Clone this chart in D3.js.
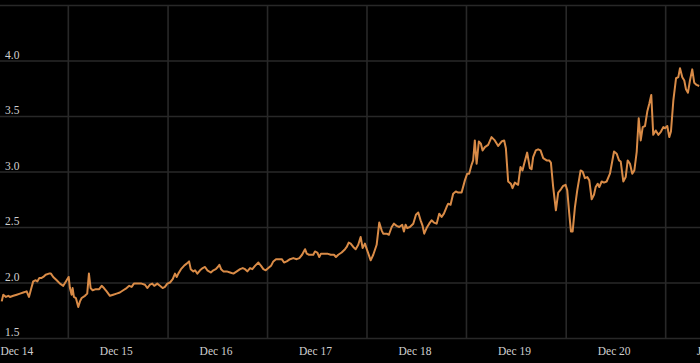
<!DOCTYPE html>
<html>
<head>
<meta charset="utf-8">
<script src="https://cdn.jsdelivr.net/npm/d3@7"></script>
<style>
  html, body { margin: 0; padding: 0; background: #000; }
  svg { display: block; }
</style>
</head>
<body>
<svg id="chart"></svg>
<script>
// series: time as decimal year
const times = [
  2014.768, 2014.784, 2014.811, 2014.834, 2014.851, 2014.885, 2014.919, 2014.952, 2014.985, 2015.019,
  2015.042, 2015.069, 2015.085, 2015.110, 2015.126, 2015.146, 2015.166, 2015.186, 2015.210, 2015.243,
  2015.263, 2015.286, 2015.321, 2015.354, 2015.387, 2015.421, 2015.441, 2015.454, 2015.471, 2015.481,
  2015.494, 2015.514, 2015.538, 2015.555, 2015.572, 2015.605, 2015.628, 2015.645, 2015.662, 2015.682,
  2015.715, 2015.748, 2015.773, 2015.796, 2015.823, 2015.856, 2015.889, 2015.923, 2015.956, 2015.990,
  2016.024, 2016.050, 2016.074, 2016.097, 2016.140, 2016.174, 2016.208, 2016.231, 2016.258, 2016.281,
  2016.301, 2016.331, 2016.358, 2016.385, 2016.408, 2016.432, 2016.459, 2016.486, 2016.509, 2016.526,
  2016.542, 2016.569, 2016.599, 2016.626, 2016.650, 2016.667, 2016.693, 2016.710, 2016.733, 2016.760,
  2016.787, 2016.810, 2016.833, 2016.868, 2016.894, 2016.918, 2016.938, 2016.954, 2016.971, 2016.994,
  2017.028, 2017.061, 2017.095, 2017.129, 2017.162, 2017.189, 2017.212, 2017.235, 2017.262, 2017.285,
  2017.312, 2017.346, 2017.373, 2017.396, 2017.420, 2017.446, 2017.473, 2017.496, 2017.523, 2017.557,
  2017.581, 2017.604, 2017.631, 2017.664, 2017.697, 2017.731, 2017.758, 2017.785, 2017.815, 2017.832,
  2017.855, 2017.878, 2017.898, 2017.915, 2017.938, 2017.958, 2017.975, 2018.006, 2018.039, 2018.073,
  2018.106, 2018.126, 2018.149, 2018.183, 2018.217, 2018.234, 2018.254, 2018.274, 2018.300, 2018.324,
  2018.350, 2018.374, 2018.394, 2018.417, 2018.440, 2018.475, 2018.501, 2018.535, 2018.561, 2018.585,
  2018.601, 2018.635, 2018.658, 2018.686, 2018.709, 2018.736, 2018.762, 2018.792, 2018.809, 2018.826,
  2018.842, 2018.869, 2018.903, 2018.930, 2018.953, 2018.977, 2018.997, 2019.013, 2019.037, 2019.063,
  2019.087, 2019.111, 2019.138, 2019.164, 2019.188, 2019.211, 2019.238, 2019.254, 2019.278, 2019.304,
  2019.331, 2019.355, 2019.389, 2019.422, 2019.445, 2019.465, 2019.489, 2019.505, 2019.522, 2019.540,
  2019.562, 2019.583, 2019.600, 2019.623, 2019.656, 2019.690, 2019.723, 2019.757, 2019.791, 2019.817,
  2019.834, 2019.857, 2019.884, 2019.901, 2019.924, 2019.957, 2019.981, 2020.001, 2020.018, 2020.048,
  2020.075, 2020.092, 2020.108, 2020.135, 2020.158, 2020.182, 2020.209, 2020.243, 2020.269, 2020.286,
  2020.309, 2020.336, 2020.359, 2020.386, 2020.409, 2020.433, 2020.450, 2020.470, 2020.487, 2020.504,
  2020.527, 2020.550, 2020.584, 2020.604, 2020.627, 2020.651, 2020.671, 2020.695, 2020.718, 2020.735,
  2020.755, 2020.771, 2020.795, 2020.818, 2020.845, 2020.878, 2020.919, 2020.946, 2020.969, 2020.986,
  2021.012, 2021.036, 2021.056, 2021.079, 2021.102, 2021.123, 2021.147, 2021.167, 2021.187, 2021.207,
  2021.230, 2021.253, 2021.273, 2021.293, 2021.313, 2021.338, 2021.364, 2021.391, 2021.414, 2021.431,
  2021.454, 2021.474, 2021.491, 2021.515, 2021.542, 2021.565, 2021.582, 2021.605, 2021.625, 2021.642,
  2021.662, 2021.682, 2021.705, 2021.725, 2021.749, 2021.775
]
const values = [
  1.83, 1.89, 1.87, 1.88, 1.87, 1.88, 1.89, 1.90, 1.91, 1.92,
  1.87, 1.96, 2.01, 2.02, 2.01, 2.04, 2.04, 2.05, 2.07, 2.08,
  2.08, 2.05, 2.02, 1.99, 1.97, 2.02, 2.05, 1.95, 1.89, 1.95,
  1.87, 1.86, 1.78, 1.83, 1.86, 1.88, 1.90, 2.08, 1.95, 1.93,
  1.94, 1.94, 1.97, 1.95, 1.92, 1.88, 1.89, 1.90, 1.91, 1.93,
  1.95, 1.97, 1.96, 1.99, 1.99, 1.99, 1.98, 1.95, 1.98, 1.99,
  1.97, 1.99, 1.97, 1.95, 1.96, 1.99, 2.00, 2.03, 2.08, 2.05,
  2.08, 2.12, 2.15, 2.17, 2.19, 2.12, 2.10, 2.11, 2.08, 2.11,
  2.13, 2.14, 2.11, 2.09, 2.11, 2.12, 2.14, 2.16, 2.12, 2.10,
  2.10, 2.09, 2.08, 2.10, 2.12, 2.13, 2.12, 2.10, 2.13, 2.12,
  2.15, 2.18, 2.15, 2.12, 2.11, 2.13, 2.15, 2.19, 2.21, 2.21,
  2.21, 2.18, 2.19, 2.21, 2.22, 2.21, 2.22, 2.25, 2.30, 2.26,
  2.25, 2.25, 2.25, 2.28, 2.27, 2.23, 2.26, 2.26, 2.26, 2.25,
  2.25, 2.23, 2.25, 2.27, 2.30, 2.32, 2.36, 2.35, 2.32, 2.30,
  2.34, 2.41, 2.31, 2.35, 2.29, 2.20, 2.25, 2.34, 2.54, 2.47,
  2.44, 2.44, 2.43, 2.50, 2.53, 2.51, 2.50, 2.52, 2.46, 2.52,
  2.49, 2.50, 2.53, 2.61, 2.63, 2.56, 2.51, 2.44, 2.49, 2.53,
  2.56, 2.54, 2.53, 2.62, 2.59, 2.62, 2.68, 2.71, 2.70, 2.80,
  2.82, 2.81, 2.81, 2.92, 2.98, 2.98, 3.06, 3.10, 3.28, 3.07,
  3.27, 3.25, 3.19, 3.22, 3.24, 3.31, 3.28, 3.23, 3.27, 3.28,
  3.21, 2.91, 2.89, 2.85, 2.90, 2.88, 3.04, 3.01, 3.07, 3.17,
  3.03, 3.02, 3.13, 3.19, 3.20, 3.19, 3.12, 3.10, 3.10, 3.08,
  2.86, 2.65, 2.81, 2.84, 2.87, 2.88, 2.83, 2.62, 2.46, 2.46,
  2.68, 2.83, 3.01, 3.00, 2.94, 2.95, 2.92, 2.75, 2.79, 2.86,
  2.89, 2.86, 2.91, 2.90, 2.91, 2.98, 3.18, 3.16, 3.10, 3.09,
  2.91, 2.95, 3.10, 3.07, 2.98, 3.01, 3.18, 3.48, 3.28, 3.40,
  3.41, 3.54, 3.61, 3.69, 3.33, 3.37, 3.33, 3.36, 3.40, 3.39,
  3.41, 3.31, 3.36, 3.64, 3.84, 3.85, 3.93, 3.85, 3.82, 3.74,
  3.71, 3.82, 3.92, 3.80, 3.78, 3.77
]

// axis ticks
const xTickDates = ["2014-12-01", "2015-12-01", "2016-12-01", "2017-12-01", "2018-12-01", "2019-12-01", "2020-12-01", "2021-12-01"]
const xTickLabels = ["Dec 14", "Dec 15", "Dec 16", "Dec 17", "Dec 18", "Dec 19", "Dec 20", "Jan 22"]
const xGridDates = ["2015-06-08", "2016-06-08", "2017-06-08", "2018-06-08", "2019-06-08", "2020-06-08", "2021-06-08"]
const yTicks = [1.5, 2.0, 2.5, 3.0, 3.5, 4.0, 4.5]
const yLabelTicks = [1.5, 2.0, 2.5, 3.0, 3.5, 4.0]

// decimal year -> Date
const toDate = function(t) {
  const yr = Math.floor(t)
  const a = new Date(yr, 0, 1), b = new Date(yr + 1, 0, 1)
  return new Date(+a + (t - yr) * (b - a))
}
const parse = d3.timeParse("%Y-%m-%d")

const data = times.map((t, i) => ({ date: toDate(t), value: values[i] }))

const W = 700, H = 363
const plotBottom = 338, plotTop = 5

const svg = d3.select("#chart")
  .attr("width", W)
  .attr("height", H)
  .style("background", "#000")

const x = d3.scaleTime()
  .domain([toDate(2014.751), toDate(2021.783)])
  .range([0, W])

const y = d3.scaleLinear()
  .domain([1.5, 4.5])
  .range([plotBottom, plotTop])

// vertical grid
svg.append("g")
  .attr("class", "xGrid")
  .attr("transform", "translate(0," + plotBottom + ")")
  .call(d3.axisBottom(x)
    .tickValues(xGridDates.map(parse))
    .tickSize(-(plotBottom - plotTop))
    .tickFormat(""))

// horizontal grid + labels
svg.append("g")
  .attr("class", "yAxis")
  .call(d3.axisLeft(y)
    .tickValues(yTicks)
    .tickSize(-W)
    .tickFormat(d => yLabelTicks.includes(d) ? d3.format(".1f")(d) : ""))

svg.selectAll(".domain").remove()
svg.selectAll(".tick line")
  .attr("stroke", "#282828")
  .attr("stroke-width", 1.6)

svg.selectAll(".yAxis .tick text")
  .attr("x", 5)
  .attr("dy", -2.5)
  .attr("text-anchor", "start")

// x labels
svg.append("g")
  .attr("class", "xAxis")
  .attr("transform", "translate(0," + plotBottom + ")")
  .call(d3.axisBottom(x)
    .tickValues(xTickDates.map(parse))
    .tickSize(0)
    .tickFormat((d, i) => xTickLabels[i]))
  .select(".domain").remove()

svg.selectAll(".xAxis .tick text")
  .attr("y", 17)
  .attr("dy", 0)
  // last label only peeks in at the right edge
  .attr("dx", (d, i) => i === xTickLabels.length - 1 ? -2 : 0)

svg.selectAll(".tick text")
  .attr("fill", "#d0d0d0")
  .attr("font-family", "Liberation Serif, serif")
  .attr("font-size", "11.5px")

// the line
svg.append("path")
  .datum(data)
  .attr("fill", "none")
  .attr("stroke", "#d98b47")
  .attr("stroke-width", 2)
  .attr("stroke-linejoin", "round")
  .attr("d", d3.line().x(d => x(d.date)).y(d => y(d.value)))
</script>
</body>
</html>
